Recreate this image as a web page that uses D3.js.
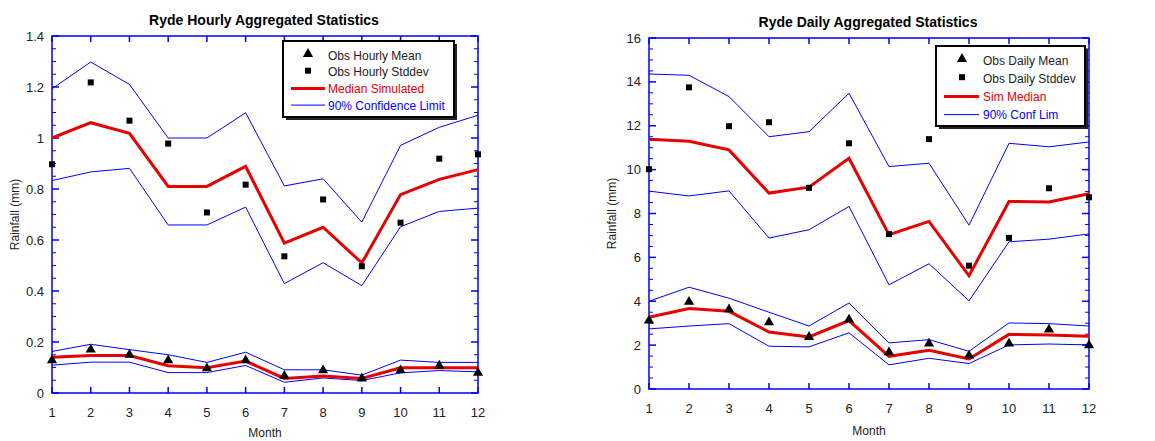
<!DOCTYPE html>
<html>
<head>
<meta charset="utf-8">
<script src="https://cdn.jsdelivr.net/npm/d3@7"></script>
<style>
  body { margin: 0; background: #fff; }
  text { font-family: "Liberation Sans", Arial, sans-serif; }
</style>
</head>
<body>
<svg id="chart" width="1155" height="441"></svg>
<script>
// months on x axis
var months = [1, 2, 3, 4, 5, 6, 7, 8, 9, 10, 11, 12];

// hourly panel
var hourlyObsMean   = [0.128, 0.170, 0.150, 0.128, 0.097, 0.128, 0.067, 0.089, 0.057, 0.089, 0.107, 0.079];
var hourlyMeanMed   = [0.140, 0.147, 0.147, 0.107, 0.099, 0.125, 0.057, 0.067, 0.057, 0.099, 0.099, 0.099];
var hourlyMeanLo    = [0.109, 0.121, 0.121, 0.080, 0.080, 0.108, 0.042, 0.059, 0.049, 0.079, 0.088, 0.083];
var hourlyMeanHi    = [0.163, 0.191, 0.170, 0.150, 0.120, 0.160, 0.091, 0.091, 0.070, 0.129, 0.120, 0.120];
var hourlyObsSd     = [0.897, 1.218, 1.068, 0.978, 0.708, 0.817, 0.536, 0.759, 0.497, 0.668, 0.919, 0.936];
var hourlySdMed     = [1.000, 1.060, 1.018, 0.810, 0.810, 0.889, 0.588, 0.650, 0.510, 0.778, 0.838, 0.876];
var hourlySdLo      = [0.833, 0.867, 0.881, 0.659, 0.659, 0.729, 0.429, 0.511, 0.421, 0.652, 0.712, 0.725];
var hourlySdHi      = [1.193, 1.298, 1.210, 1.000, 1.000, 1.099, 0.812, 0.840, 0.670, 0.971, 1.042, 1.089];

// daily panel
var dailyObsMean    = [3.12, 3.97, 3.63, 3.04, 2.37, 3.16, 1.67, 2.07, 1.52, 2.07, 2.71, 1.99];
var dailyMeanMed    = [3.27, 3.67, 3.54, 2.60, 2.37, 3.12, 1.49, 1.76, 1.37, 2.49, 2.46, 2.40];
var dailyMeanLo     = [2.74, 2.87, 2.98, 1.95, 1.92, 2.56, 1.10, 1.40, 1.16, 2.01, 2.05, 2.01];
var dailyMeanHi     = [4.00, 4.64, 4.14, 3.50, 2.87, 3.92, 2.10, 2.25, 1.72, 3.01, 2.98, 2.87];
var dailyObsSd      = [10.02, 13.75, 11.98, 12.16, 9.17, 11.20, 7.06, 11.39, 5.62, 6.89, 9.15, 8.74];
var dailySdMed      = [11.39, 11.29, 10.90, 8.93, 9.20, 10.52, 7.03, 7.64, 5.16, 8.55, 8.52, 8.90];
var dailySdLo       = [9.02, 8.80, 9.03, 6.88, 7.26, 8.32, 4.75, 5.71, 4.02, 6.71, 6.83, 7.07];
var dailySdHi       = [14.36, 14.30, 13.33, 11.50, 11.73, 13.48, 10.14, 10.29, 7.47, 11.20, 11.04, 11.26];

var hourlyLegend = ["Obs Hourly Mean", "Obs Hourly Stddev", "Median Simulated", "90% Confidence Limit"];
var dailyLegend  = ["Obs Daily Mean", "Obs Daily Stddev", "Sim Median", "90% Conf Lim"];

var RED = "#e60000", BLUE = "#0000ff";
var svg = d3.select("#chart");

function drawPanel(opt) {
  var g = svg.append("g");
  var x = d3.scaleLinear().domain([1, 12]).range([opt.left, opt.right]);
  var y = d3.scaleLinear().domain([0, opt.yMax]).range([opt.bottom, opt.top]);
  var line = d3.line().x(function(d, i) { return x(months[i]); }).y(function(d) { return y(d); });

  // title
  g.append("text").attr("x", (opt.left + opt.right) / 2 + opt.titleDx).attr("y", opt.top - 11)
    .attr("text-anchor", "middle").style("font-size", "14px").style("font-weight", "bold")
    .text(opt.title);

  // frame
  g.append("rect").attr("x", opt.left).attr("y", opt.top)
    .attr("width", opt.right - opt.left).attr("height", opt.bottom - opt.top)
    .attr("fill", "none").attr("stroke", BLUE).attr("stroke-width", 1.5);

  // y ticks, both sides, inward
  var minorTicks = d3.range(0, opt.yMax + 1e-9, opt.minorStep);
  minorTicks.forEach(function(v) {
    var isMajor = Math.abs(v / opt.majorStep - Math.round(v / opt.majorStep)) < 1e-6;
    var len = isMajor ? 7 : 4;
    g.append("line").attr("x1", opt.left).attr("x2", opt.left + len)
      .attr("y1", y(v)).attr("y2", y(v)).attr("stroke", BLUE).attr("stroke-width", isMajor ? 1.5 : 1);
    g.append("line").attr("x1", opt.right).attr("x2", opt.right - len)
      .attr("y1", y(v)).attr("y2", y(v)).attr("stroke", BLUE).attr("stroke-width", isMajor ? 1.5 : 1);
  });
  y.ticks(opt.yMax / opt.majorStep).forEach(function(v) {
    g.append("text").attr("x", opt.left - 8).attr("y", y(v) + 4.5)
      .attr("text-anchor", "end").style("font-size", "13px").style("fill", "#222")
      .text(opt.fmt(v));
  });

  // x ticks, top and bottom
  months.forEach(function(m) {
    g.append("line").attr("x1", x(m)).attr("x2", x(m)).attr("y1", opt.bottom).attr("y2", opt.bottom - 6)
      .attr("stroke", BLUE).attr("stroke-width", 1.5);
    g.append("line").attr("x1", x(m)).attr("x2", x(m)).attr("y1", opt.top).attr("y2", opt.top + 6)
      .attr("stroke", BLUE).attr("stroke-width", 1.5);
    g.append("text").attr("x", x(m)).attr("y", opt.bottom + 24)
      .attr("text-anchor", "middle").style("font-size", "13px").style("fill", "#222").text(m);
  });

  // axis labels
  g.append("text").attr("x", (opt.left + opt.right) / 2).attr("y", opt.monthY)
    .attr("text-anchor", "middle").style("font-size", "12px").style("fill", "#222").text("Month");
  g.append("text").attr("transform", "translate(" + opt.yLabelX + "," + (opt.top + opt.bottom) / 2 + ") rotate(-90)")
    .attr("text-anchor", "middle").style("font-size", "12px").style("fill", "#222").text("Rainfall (mm)");

  // lines
  [opt.meanLo, opt.meanHi, opt.sdLo, opt.sdHi].forEach(function(s) {
    g.append("path").datum(s).attr("d", line).attr("fill", "none").attr("stroke", BLUE).attr("stroke-width", 1);
  });
  [opt.meanMed, opt.sdMed].forEach(function(s) {
    g.append("path").datum(s).attr("d", line).attr("fill", "none").attr("stroke", RED).attr("stroke-width", 3);
  });

  // observed points
  var tri = d3.symbol().type(d3.symbolTriangle).size(45);
  g.selectAll(".tri").data(opt.obsMean).enter().append("path")
    .attr("transform", function(d, i) { return "translate(" + x(months[i]) + "," + y(d) + ")"; })
    .attr("d", tri).attr("fill", "#000");
  g.selectAll(".sq").data(opt.obsSd).enter().append("rect")
    .attr("x", function(d, i) { return x(months[i]) - 3; })
    .attr("y", function(d) { return y(d) - 3; })
    .attr("width", 6).attr("height", 6).attr("fill", "#000");

  // legend
  var L = opt.legend;
  g.append("rect").attr("x", L.x + 3).attr("y", L.y + 3).attr("width", L.w).attr("height", L.h).attr("fill", "#222");
  g.append("rect").attr("x", L.x).attr("y", L.y).attr("width", L.w).attr("height", L.h)
    .attr("fill", "#fff").attr("stroke", "#000").attr("stroke-width", 2);
  var rowY = function(i) { return L.y + 14 + i * L.gap; };
  g.append("path").attr("transform", "translate(" + L.sx + "," + (rowY(0) - 1) + ")").attr("d", tri).attr("fill", "#000");
  g.append("rect").attr("x", L.sx - 3).attr("y", rowY(1) - 4).attr("width", 6).attr("height", 6).attr("fill", "#000");
  g.append("line").attr("x1", L.lx0).attr("x2", L.lx1).attr("y1", rowY(2)).attr("y2", rowY(2))
    .attr("stroke", RED).attr("stroke-width", 3);
  g.append("line").attr("x1", L.lx0).attr("x2", L.lx1).attr("y1", rowY(3)).attr("y2", rowY(3))
    .attr("stroke", BLUE).attr("stroke-width", 1);
  var colors = ["#222", "#222", RED, BLUE];
  opt.legendText.forEach(function(t, i) {
    g.append("text").attr("x", L.tx).attr("y", rowY(i) + 4.5).style("font-size", "12px")
      .style("fill", colors[i]).text(t);
  });
}

drawPanel({
  title: "Ryde Hourly Aggregated Statistics", titleDx: -1,
  left: 52, right: 478, top: 36, bottom: 393, yMax: 1.4,
  majorStep: 0.2, minorStep: 0.05, yLabelX: 19, monthY: 437,
  fmt: function(v) { return d3.format("~g")(+v.toFixed(2)); },
  obsMean: hourlyObsMean, meanMed: hourlyMeanMed, meanLo: hourlyMeanLo, meanHi: hourlyMeanHi,
  obsSd: hourlyObsSd, sdMed: hourlySdMed, sdLo: hourlySdLo, sdHi: hourlySdHi,
  legendText: hourlyLegend,
  legend: { x: 283, y: 41, w: 171, h: 76, gap: 16.7, sx: 308, lx0: 291, lx1: 325, tx: 328 }
});

drawPanel({
  title: "Ryde Daily Aggregated Statistics", titleDx: -1,
  left: 649, right: 1089, top: 38, bottom: 389, yMax: 16,
  majorStep: 2, minorStep: 0.5, yLabelX: 616, monthY: 435,
  fmt: function(v) { return v; },
  obsMean: dailyObsMean, meanMed: dailyMeanMed, meanLo: dailyMeanLo, meanHi: dailyMeanHi,
  obsSd: dailyObsSd, sdMed: dailySdMed, sdLo: dailySdLo, sdHi: dailySdHi,
  legendText: dailyLegend,
  legend: { x: 936, y: 46, w: 149, h: 80, gap: 18.2, sx: 962, lx0: 944, lx1: 979, tx: 983 }
});
</script>
</body>
</html>
